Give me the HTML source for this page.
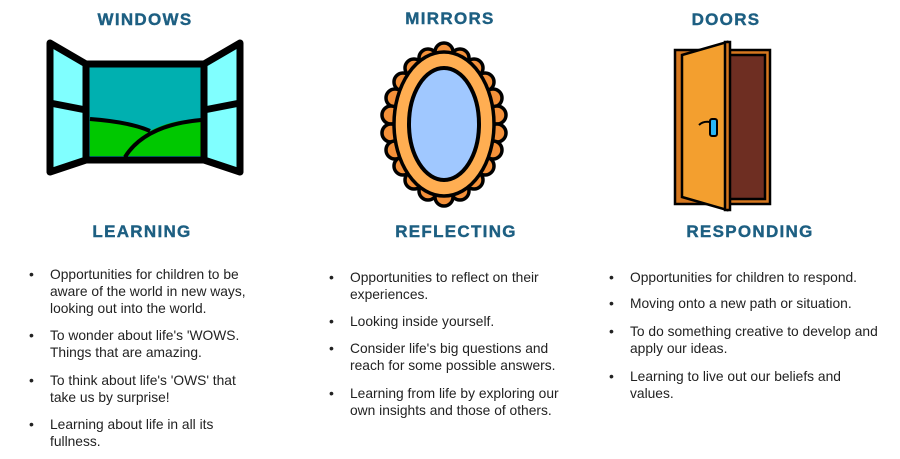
<!DOCTYPE html>
<html><head><meta charset="utf-8"><style>
body{margin:0;width:900px;height:459px;background:#fff;position:relative;overflow:hidden;font-family:"Liberation Sans",sans-serif}
.h{position:absolute;color:#1d5f82;font-weight:bold;font-size:17px;letter-spacing:1.3px;transform:translateX(-50%);white-space:nowrap;line-height:20px;-webkit-text-stroke:0.4px #1d5f82}
.b{position:absolute;font-size:13.8px;line-height:17px;color:#222;white-space:nowrap}
.b:before{content:"•";position:absolute;left:-21px;font-size:14px}
svg{position:absolute;left:0;top:0}
</style></head><body>
<div class="h" style="left:145px;top:10px">WINDOWS</div>
<div class="h" style="left:450px;top:9px">MIRRORS</div>
<div class="h" style="left:726px;top:10px">DOORS</div>
<div class="h" style="left:142px;top:222px">LEARNING</div>
<div class="h" style="left:456px;top:222px">REFLECTING</div>
<div class="h" style="left:750px;top:222px">RESPONDING</div>

<svg width="900" height="459">
<g stroke="#000" stroke-width="7" stroke-linejoin="round">
<polygon points="50,43 86,64 86,160 50,172" fill="#80ffff"/>
<polygon points="240,43 204,64 204,160 240,172" fill="#80ffff"/>
<line x1="50" y1="103" x2="86" y2="110"/><line x1="240" y1="103" x2="204" y2="110"/>
<rect x="86" y="64" width="118" height="96" fill="#00b0b0"/>
</g>
<path d="M90,119 Q130,122 150,131 Q175,118 201,120 L201,156 L90,156Z" fill="#00c800"/>
<path d="M90,119 Q130,122 150,131" stroke="#000" stroke-width="4" fill="none"/>
<path d="M125,157 Q145,125 201,120" stroke="#000" stroke-width="4" fill="none"/>
<rect x="86" y="64" width="118" height="96" fill="none" stroke="#000" stroke-width="7"/>

<g stroke="#000" stroke-width="3.5">
<g fill="#f4913a">
<circle cx="444" cy="52" r="9"/><circle cx="428" cy="58" r="9"/><circle cx="460" cy="58" r="9"/>
<circle cx="414" cy="68" r="9"/><circle cx="474" cy="68" r="9"/><circle cx="403" cy="82" r="9"/><circle cx="485" cy="82" r="9"/>
<circle cx="395" cy="98" r="9"/><circle cx="493" cy="98" r="9"/><circle cx="391" cy="115" r="9"/><circle cx="497" cy="115" r="9"/>
<circle cx="391" cy="133" r="9"/><circle cx="497" cy="133" r="9"/><circle cx="395" cy="150" r="9"/><circle cx="493" cy="150" r="9"/>
<circle cx="403" cy="166" r="9"/><circle cx="485" cy="166" r="9"/><circle cx="414" cy="180" r="9"/><circle cx="474" cy="180" r="9"/>
<circle cx="428" cy="191" r="9"/><circle cx="460" cy="191" r="9"/><circle cx="444" cy="197" r="9"/>
</g>
<ellipse cx="444" cy="124" rx="50" ry="72" fill="#ffae52"/>
<ellipse cx="444" cy="124" rx="35" ry="56" fill="#a0c8ff" stroke-width="4"/>
</g>

<g stroke="#000" stroke-width="2.5">
<rect x="675" y="50" width="95" height="154" fill="#d5771f"/>
<rect x="725" y="55" width="40" height="144" fill="#6e2e22"/>
<polygon points="682,55 727,42 727,210 682,197" fill="#f39f2f"/>
<rect x="725" y="42" width="5" height="168" fill="#d5771f"/>
<rect x="710" y="119" width="7" height="17" rx="2" fill="#29b6f6" stroke-width="2"/>
<path d="M699,125 Q703,121 710,122" fill="none" stroke-width="2"/>
</g>
</svg>

<div class="b" style="left:50px;top:266px">Opportunities for children to be<br>aware of the world in new ways,<br>looking out into the world.</div>
<div class="b" style="left:50px;top:327px">To wonder about life's 'WOWS.<br>Things that are amazing.</div>
<div class="b" style="left:50px;top:372px">To think about life's 'OWS' that<br>take us by surprise!</div>
<div class="b" style="left:50px;top:416px">Learning about life in all its<br>fullness.</div>

<div class="b" style="left:350px;top:269px">Opportunities to reflect on their<br>experiences.</div>
<div class="b" style="left:350px;top:313px">Looking inside yourself.</div>
<div class="b" style="left:350px;top:340px">Consider life's big questions and<br>reach for some possible answers.</div>
<div class="b" style="left:350px;top:385px">Learning from life by exploring our<br>own insights and those of others.</div>

<div class="b" style="left:630px;top:269px">Opportunities for children to respond.</div>
<div class="b" style="left:630px;top:295px">Moving onto a new path or situation.</div>
<div class="b" style="left:630px;top:323px">To do something creative to develop and<br>apply our ideas.</div>
<div class="b" style="left:630px;top:368px">Learning to live out our beliefs and<br>values.</div>
</body></html>
